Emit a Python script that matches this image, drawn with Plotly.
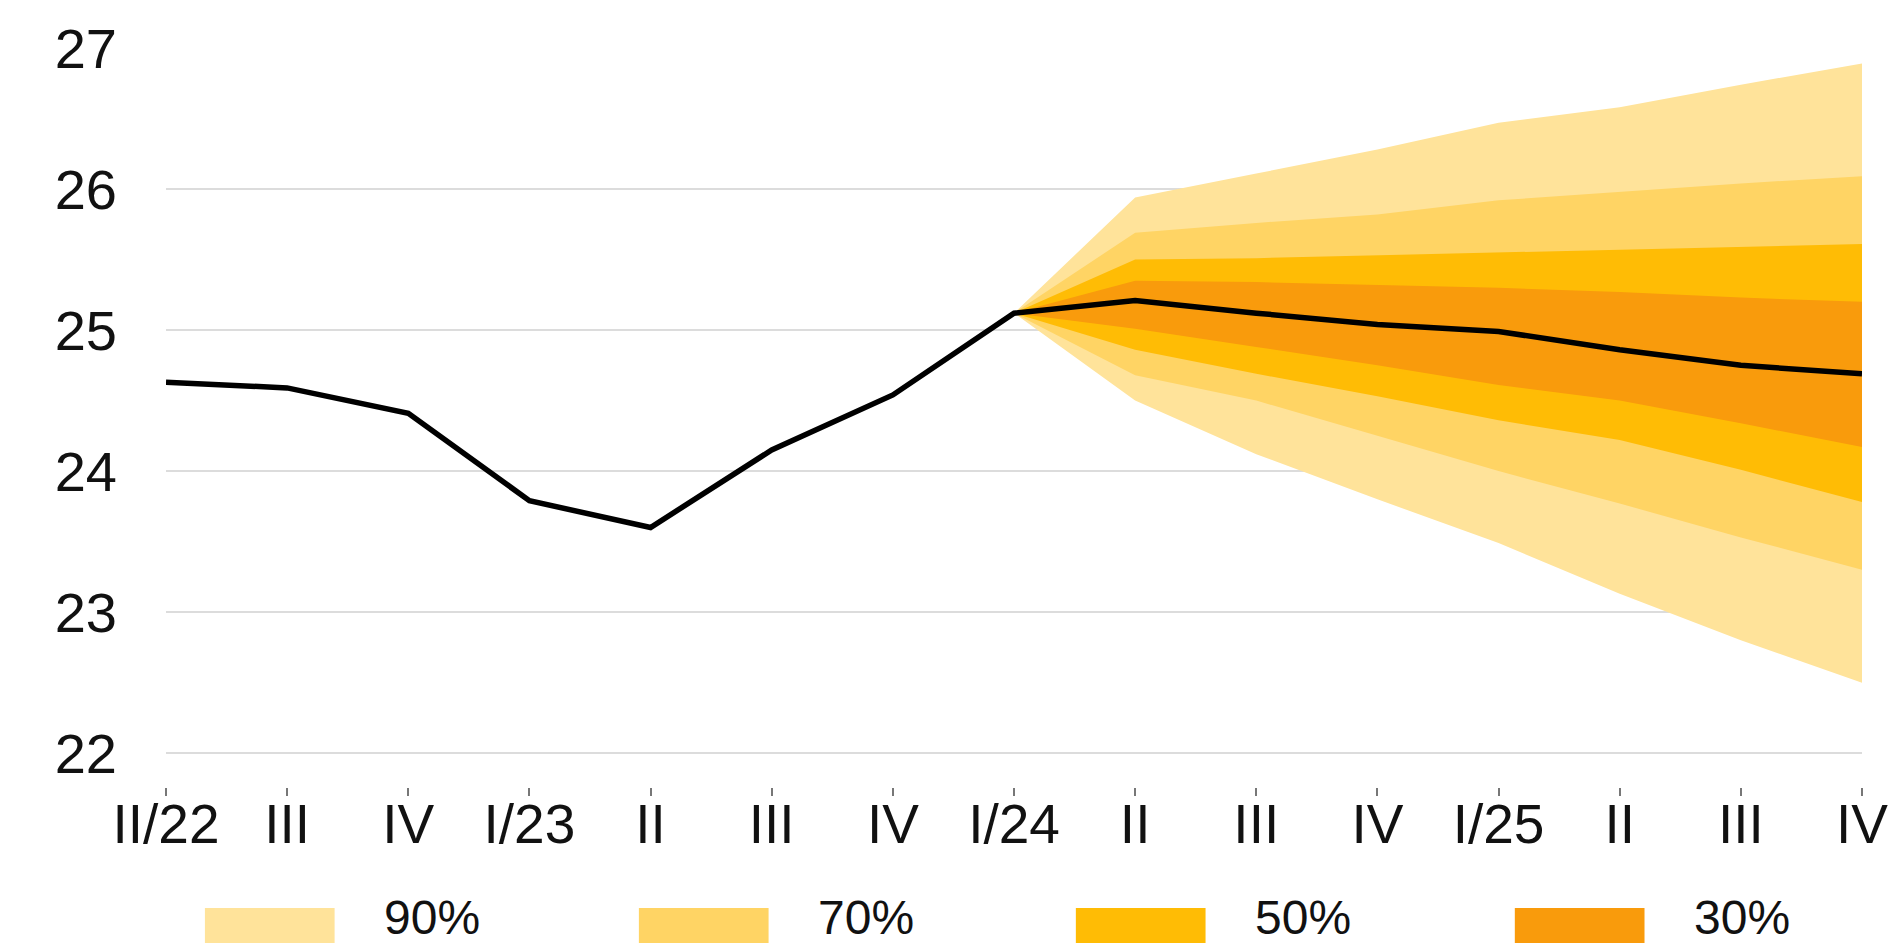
import plotly.graph_objects as go

# ---- data ----
quarters = ["II/22", "III", "IV", "I/23", "II", "III", "IV", "I/24",
            "II", "III", "IV", "I/25", "II", "III", "IV"]
central = [24.63, 24.59, 24.41, 23.79, 23.60, 24.15, 24.54, 25.12,
           25.21, 25.12, 25.04, 24.99, 24.86, 24.75, 24.69]

fan_quarters = ["I/24", "II", "III", "IV", "I/25", "II", "III", "IV"]
upper_90 = [25.12, 25.94, 26.11, 26.28, 26.47, 26.58, 26.74, 26.89]
upper_70 = [25.12, 25.69, 25.76, 25.82, 25.92, 25.98, 26.04, 26.09]
upper_50 = [25.12, 25.50, 25.51, 25.53, 25.55, 25.57, 25.59, 25.61]
upper_30 = [25.12, 25.35, 25.34, 25.32, 25.30, 25.27, 25.23, 25.20]
lower_30 = [25.12, 25.01, 24.88, 24.75, 24.61, 24.50, 24.34, 24.17]
lower_50 = [25.12, 24.86, 24.69, 24.53, 24.36, 24.22, 24.01, 23.78]
lower_70 = [25.12, 24.68, 24.50, 24.25, 24.00, 23.77, 23.53, 23.30]
lower_90 = [25.12, 24.50, 24.12, 23.80, 23.49, 23.13, 22.80, 22.50]

band_labels = ["90%", "70%", "50%", "30%"]
band_colors = ["#FFE39A", "#FFD464", "#FFBC05", "#F99B0C"]
y_ticks = [22, 23, 24, 25, 26, 27]

# ---- figure ----
W, H = 1900, 947
ML, MR, MT, MB = 166, 34, 48, 160
FONT = "Liberation Sans, Arial, sans-serif"

x_all = list(range(len(quarters)))
fan_start = quarters.index("I/24")
x_fan = [fan_start + i for i in range(len(fan_quarters))]

bands = [(upper_90, lower_90), (upper_70, lower_70),
         (upper_50, lower_50), (upper_30, lower_30)]

fig = go.Figure()
for (up, lo), lab, col in zip(bands, band_labels, band_colors):
    fig.add_trace(go.Scatter(
        x=x_fan + x_fan[::-1],
        y=up + lo[::-1],
        fill="toself", fillcolor=col, mode="lines",
        line=dict(width=0, color=col), name=lab,
        hoverinfo="skip", showlegend=False))

fig.add_trace(go.Scatter(
    x=x_all, y=central, mode="lines",
    line=dict(color="#000000", width=5.5), showlegend=False, name="central"))

fig.update_xaxes(
    range=[0, len(quarters) - 1],
    tickmode="array", tickvals=x_all, ticktext=quarters,
    ticks="outside", ticklen=8, tickwidth=1.5, tickcolor="#777777",
    showgrid=False, zeroline=False, showline=False,
    tickfont=dict(family=FONT, size=55, color="#111111"),
    ticklabelstandoff=-19,
)
fig.update_yaxes(
    range=[21.76, 27.0],
    tickmode="array", tickvals=y_ticks,
    showgrid=True, gridcolor="#DCDCDC", gridwidth=2,
    zeroline=False, showline=False, ticks="",
    tickfont=dict(family=FONT, size=56, color="#111111"),
    ticklabelstandoff=48,
)

plot_w = W - ML - MR
plot_h = H - MT - MB


def px_x(px):
    return (px - ML) / plot_w


def px_y(py):
    return (H - MB - py) / plot_h


shapes = []
annotations = []
box_starts = [205, 640, 1078, 1518]
for bx, lab, col in zip(box_starts, band_labels, band_colors):
    shapes.append(dict(type="rect", xref="paper", yref="paper",
                       x0=px_x(bx), x1=px_x(bx + 130),
                       y0=px_y(943), y1=px_y(908),
                       fillcolor=col, line=dict(width=0), layer="above"))
    annotations.append(dict(xref="paper", yref="paper",
                            x=px_x(bx + 178), y=px_y(918),
                            text=lab, showarrow=False,
                            xanchor="left", yanchor="middle",
                            font=dict(family=FONT, size=48, color="#111111")))

fig.update_layout(
    width=W, height=H,
    margin=dict(l=ML, r=MR, t=MT, b=MB, pad=0),
    plot_bgcolor="white", paper_bgcolor="white",
    shapes=shapes, annotations=annotations,
    showlegend=False,
)

fig.write_html("out.html", config={"displayModeBar": False},
               post_script="document.body.style.margin='0';")
